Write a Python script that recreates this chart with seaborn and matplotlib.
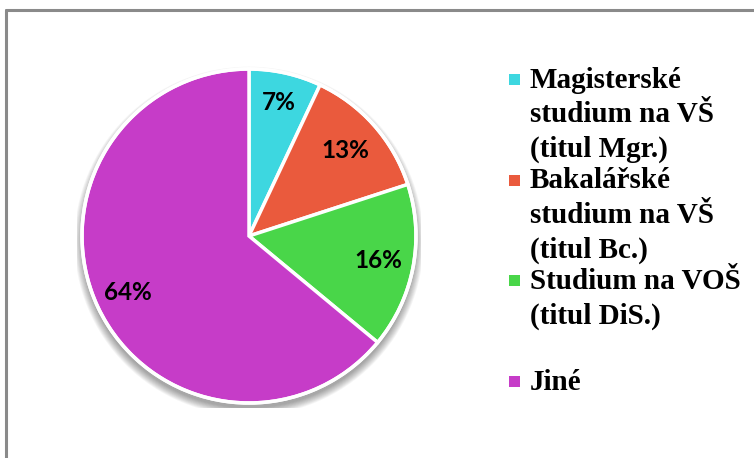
import numpy as np
import matplotlib
matplotlib.use("Agg")
import matplotlib.pyplot as plt
from matplotlib.patches import Circle, Rectangle
from matplotlib.lines import Line2D
import seaborn as sns

# Data
categories = [
    "Magisterské\nstudium na VŠ\n(titul Mgr.)",
    "Bakalářské\nstudium na VŠ\n(titul Bc.)",
    "Studium na VOŠ\n(titul DiS.)",
    "Jiné",
]
shares = [7, 13, 16, 64]
slice_colors = ["#3DD7E0", "#EA5A3D", "#49D649", "#C63CC8"]
label_dist = [0.82, 0.77, 0.79, 0.80]

sns.set_theme(style="white")
palette = sns.color_palette(slice_colors)

W, H = 754, 458
fig = plt.figure(figsize=(W / 100, H / 100), dpi=100)
fig.patch.set_facecolor("white")


def fx(px):
    return px / W


def fy(py):
    return 1 - py / H


# Frame around the chart area (top and left edges visible)
fig.add_artist(Line2D([fx(6), 1.01], [fy(10), fy(10)], color="#8a8a8a", lw=2.2,
                      transform=fig.transFigure))
fig.add_artist(Line2D([fx(6), fx(6)], [fy(10), -0.01], color="#8a8a8a", lw=2.2,
                      transform=fig.transFigure))

# Pie axes
cx, cy, half = 249, 236, 172
ax = fig.add_axes([fx(cx - half), fy(cy + half), 2 * half / W, 2 * half / H])
R = 167 / half

# Soft shadow beneath the pie
for i in range(10):
    ax.add_patch(Circle((0, -0.03), R * (1.0 + 0.005 * i), facecolor="black",
                        edgecolor="none", alpha=0.04, zorder=0))

wedges, _ = ax.pie(shares, colors=palette, startangle=90, counterclock=False,
                   radius=R, center=(0, 0), frame=True,
                   wedgeprops=dict(edgecolor="white", linewidth=2.5))
ax.set_xlim(-1, 1)
ax.set_ylim(-1, 1)
ax.set_aspect("equal")
ax.axis("off")
ax.add_patch(Circle((0, 0), R, facecolor="none", edgecolor="white", lw=2.5, zorder=5))

for w, v, d in zip(wedges, shares, label_dist):
    ang = np.deg2rad((w.theta1 + w.theta2) / 2)
    ax.text(d * R * np.cos(ang), d * R * np.sin(ang), f"{v}%",
            ha="center", va="center", fontsize=17.5, fontweight="bold",
            family="Lato", color="black", zorder=6)

# Legend, one line of text at a time so every marker sits on its first line
leg_x_marker = 509
leg_x_text = 530
base0, step, line_step = 88, 100.5, 34.5
for i, (lab, col) in enumerate(zip(categories, palette)):
    base = base0 + step * i
    fig.add_artist(Rectangle((fx(leg_x_marker), fy(base - 3)), 11 / W, 11 / H,
                             transform=fig.transFigure, facecolor=col,
                             edgecolor="none"))
    for k, line in enumerate(lab.split("\n")):
        fig.text(fx(leg_x_text), fy(base + k * line_step), line, ha="left",
                 va="baseline", fontsize=21, fontweight="bold",
                 family="Liberation Serif", color="black")

fig.savefig("out.png", dpi=100)
